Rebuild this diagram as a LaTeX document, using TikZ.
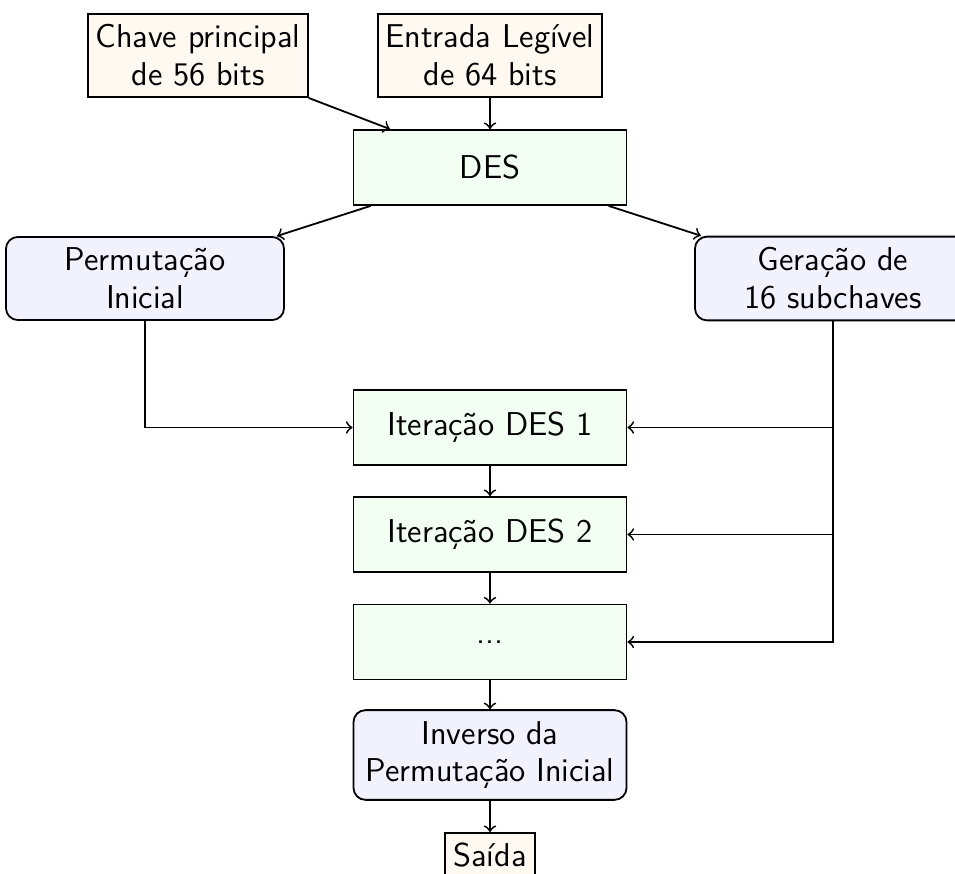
\documentclass[tikz,border=0pt]{standalone}
\usepackage{tikz}

\begin{document}
\begin{tikzpicture}
    [ x=0.3333pt, y=-0.3333pt,
      inputBox/.style={draw=black, fill=orange!5, semithick, align=center, inner sep=1pt},
      stageBox/.style={draw=black, fill=green!5, semithick, minimum width=91pt, minimum height=25pt},
      permBox/.style={draw=black, fill=blue!5, semithick, rounded corners=4pt, align=center, minimum height=27.7pt},
      arrow/.style={black, ->, semithick}]

  \fontsize{11}{12.6}\selectfont\sffamily%
  \useasboundingbox (0,0) rectangle (955,874);

%%%%%%%%%%%%%%%%%%%%%%%%%%%%%%%%%%%%%%%%%%%%%%%%%%%%%%%%%%%%%%%%%%%%%%%%%%%%%%%%%%%%%%%%%%%%%%%%%%%%%%%%%%
%inputs and DES block
	  \node[inputBox, minimum width=73.3pt, minimum height=27.7pt] (chave) at (198,55.5) {Chave principal\\de 56 bits};
	  \node[inputBox, minimum width=74.7pt, minimum height=27.7pt] (entrada) at (490,55.5) {Entrada Legível\\de 64 bits};
	  \node[stageBox] (des) at (490,167.5) {DES};

	  \node[permBox, minimum width=92.7pt] (perm) at (145,278.5) {Permutação\\Inicial};
	  \node[permBox, minimum width=92pt] (gera) at (833,278.5) {Geração de\\16 subchaves};

%%%%%%%%%%%%%%%%%%%%%%%%%%%%%%%%%%%%%%%%%%%%%%%%%%%%%%%%%%%%%%%%%%%%%%%%%%%%%%%%%%%%%%%%%%%%%%%%%%%%%%%%%%
%iterations and output
	  \node[stageBox] (iter1) at (490,427.5) {Iteração DES 1};
	  \node[stageBox] (iter2) at (490,534.5) {Iteração DES 2};
	  \node[stageBox] (dots) at (490,642) {...};
	  \node[permBox, minimum width=91pt, minimum height=28pt, inner xsep=1pt] (inv) at (490,755) {Inverso da\\Permutação Inicial};
	  \node[inputBox, minimum width=30pt, minimum height=14.7pt] (saida) at (490,855) {Saída};

%%%%%%%%%%%%%%%%%%%%%%%%%%%%%%%%%%%%%%%%%%%%%%%%%%%%%%%%%%%%%%%%%%%%%%%%%%%%%%%%%%%%%%%%%%%%%%%%%%%%%%%%%%
%connectors
	  \draw[arrow] (chave) -- (des);
	  \draw[arrow] (entrada) -- (des);
	  \draw[arrow] (des) -- (perm);
	  \draw[arrow] (des) -- (gera);
	  \draw[arrow] (perm) |- (iter1);
	  \draw[arrow] (gera) |- (iter1);
	  \draw[arrow] (gera) |- (iter2);
	  \draw[arrow] (gera) |- (dots);
	  \draw[arrow] (iter1) -- (iter2);
	  \draw[arrow] (iter2) -- (dots);
	  \draw[arrow] (dots) -- (inv);
	  \draw[arrow] (inv) -- (saida);

\end{tikzpicture}
\end{document}
